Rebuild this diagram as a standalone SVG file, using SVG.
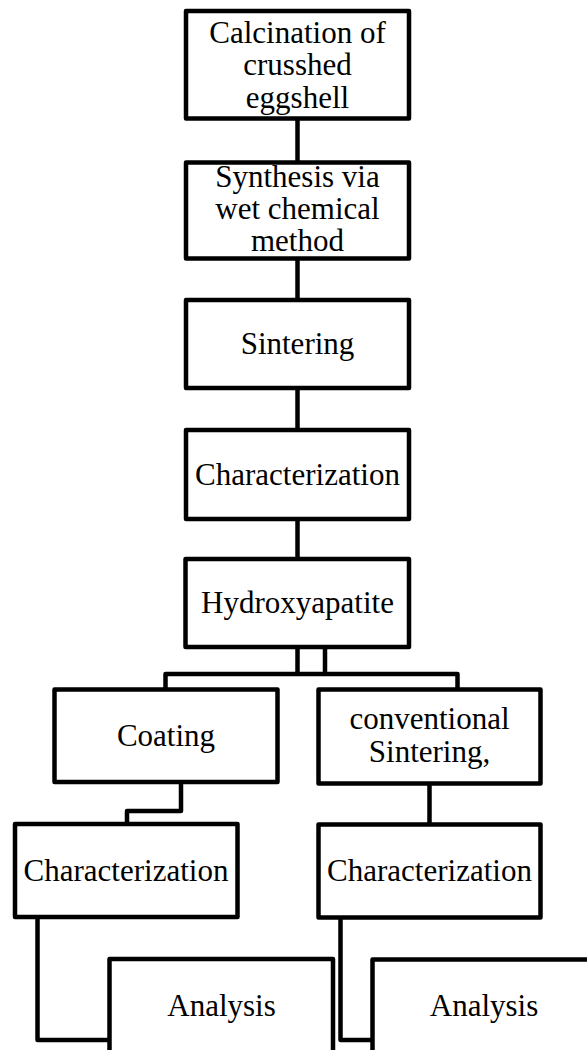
<svg xmlns="http://www.w3.org/2000/svg" width="587" height="1050" viewBox="0 0 587 1050">
<style>
.box{fill:#fff;stroke:#000;stroke-width:4.5;stroke-linejoin:round}
.c{fill:none;stroke:#000;stroke-width:4.5;stroke-linejoin:round}
.t{font-family:"Liberation Serif","Times New Roman",serif;font-size:31px;text-anchor:middle;fill:#000}
</style>
<rect width="587" height="1050" fill="#fff"/>
<g id="connectors">
<path class="c" d="M297.5 118.5V162.5"/>
<path class="c" d="M297.5 258.5V300"/>
<path class="c" d="M297.5 388V430"/>
<path class="c" d="M297.5 519V559"/>
<path class="c" d="M297.5 647V674H165.5V689.5"/>
<path class="c" d="M325 647V674H457.5V689.5"/>
<path class="c" d="M297.5 674H325"/>
<path class="c" d="M181 782V811H127V824"/>
<path class="c" d="M429.5 783.5V824.5"/>
<path class="c" d="M37.5 917V1040H109.5"/>
<path class="c" d="M340.5 917.5V1040H372.5"/>
</g>
<g id="n1"><rect class="box" x="186" y="11" width="223" height="107.5"/>
<text class="t" x="297.5" y="42.75">Calcination of</text><text class="t" x="297.5" y="75.25">crusshed</text><text class="t" x="297.5" y="107.75">eggshell</text></g>
<g id="n2"><rect class="box" x="186" y="162.5" width="223" height="96"/>
<text class="t" x="297.5" y="187">Synthesis via</text><text class="t" x="297.5" y="219">wet chemical</text><text class="t" x="297.5" y="251">method</text></g>
<g id="n3"><rect class="box" x="186" y="300" width="223" height="88"/>
<text class="t" x="297.5" y="354">Sintering</text></g>
<g id="n4"><rect class="box" x="186" y="430" width="223" height="89"/>
<text class="t" x="297.5" y="485">Characterization</text></g>
<g id="n5"><rect class="box" x="185.5" y="559" width="223.5" height="88"/>
<text class="t" x="297.5" y="613">Hydroxyapatite</text></g>
<g id="n6"><rect class="box" x="54.5" y="689.5" width="223" height="92.5"/>
<text class="t" x="166" y="746">Coating</text></g>
<g id="n7"><rect class="box" x="318.5" y="689.5" width="222" height="94"/>
<text class="t" x="429.5" y="729">conventional</text><text class="t" x="429.5" y="762">Sintering,</text></g>
<g id="n8"><rect class="box" x="15" y="824" width="222.5" height="93"/>
<text class="t" x="126" y="881">Characterization</text></g>
<g id="n9"><rect class="box" x="318.5" y="824.5" width="222" height="93"/>
<text class="t" x="429.5" y="880.5">Characterization</text></g>
<g id="n10"><rect class="box" x="109.5" y="959" width="223.5" height="96"/>
<text class="t" x="221.5" y="1016">Analysis</text></g>
<g id="n11"><rect class="box" x="372.5" y="959.5" width="223.5" height="96"/>
<text class="t" x="484" y="1015.5">Analysis</text></g>
</svg>
